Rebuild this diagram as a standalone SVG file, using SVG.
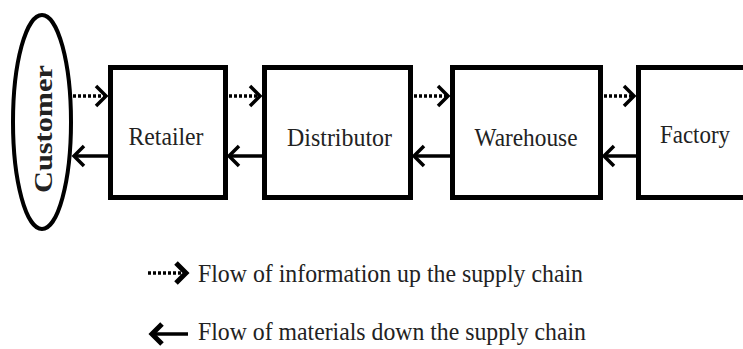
<svg xmlns="http://www.w3.org/2000/svg" width="743" height="349" viewBox="0 0 743 349">
<style>
.box{fill:#fff;stroke:#000;stroke-width:5}
.lbl{font-family:"Liberation Serif",serif;font-size:26px;fill:#222;text-anchor:middle}
.leg{font-family:"Liberation Serif",serif;font-size:26px;fill:#222}
.dot{stroke:#000;stroke-width:3.5;stroke-dasharray:3 2;fill:none}
.sol{stroke:#000;stroke-width:3.5;fill:none}
</style>
<defs>
<marker id="chev" markerUnits="userSpaceOnUse" markerWidth="16" markerHeight="24" refX="12" refY="11" orient="auto" overflow="visible">
<path d="M2,1 L12,11 L2,21" fill="none" stroke="#000" stroke-width="3.5"/>
</marker>
<marker id="chevb" markerUnits="userSpaceOnUse" markerWidth="16" markerHeight="24" refX="12" refY="11" orient="auto" overflow="visible">
<path d="M2,1 L12,11 L2,21" fill="none" stroke="#000" stroke-width="5"/>
</marker>
</defs>
<g id="customer">
<ellipse cx="42" cy="122" rx="29" ry="107" fill="#fff" stroke="#000" stroke-width="4"/>
<text transform="translate(52,129) rotate(-90)" class="lbl" font-weight="bold" textLength="128" lengthAdjust="spacingAndGlyphs">Customer</text>
</g>
<g id="retailer">
<rect class="box" x="110.5" y="67.5" width="115" height="130"/>
<text class="lbl" x="166" y="145" textLength="75" lengthAdjust="spacingAndGlyphs">Retailer</text>
</g>
<g id="distributor">
<rect class="box" x="264.5" y="67.5" width="146" height="130"/>
<text class="lbl" x="339.5" y="146" textLength="105" lengthAdjust="spacingAndGlyphs">Distributor</text>
</g>
<g id="warehouse">
<rect class="box" x="452.5" y="67.5" width="148" height="130"/>
<text class="lbl" x="526" y="146" textLength="103" lengthAdjust="spacingAndGlyphs">Warehouse</text>
</g>
<g id="factory">
<rect class="box" x="638.5" y="67.5" width="115" height="130"/>
<text class="lbl" x="695" y="143" textLength="70" lengthAdjust="spacingAndGlyphs">Factory</text>
</g>
<g id="connectors">
<line class="dot" x1="73" y1="96" x2="106" y2="96" marker-end="url(#chev)"/>
<line class="dot" x1="229" y1="96" x2="260" y2="96" marker-end="url(#chev)"/>
<line class="dot" x1="414" y1="96" x2="448" y2="96" marker-end="url(#chev)"/>
<line class="dot" x1="604" y1="96" x2="634" y2="96" marker-end="url(#chev)"/>
<line class="sol" x1="108" y1="156" x2="74" y2="156" marker-end="url(#chev)"/>
<line class="sol" x1="262" y1="156" x2="229" y2="156" marker-end="url(#chev)"/>
<line class="sol" x1="450" y1="156" x2="414" y2="156" marker-end="url(#chev)"/>
<line class="sol" x1="636" y1="156" x2="604" y2="156" marker-end="url(#chev)"/>
</g>
<g id="legend">
<line class="dot" x1="148" y1="273" x2="186" y2="273" marker-end="url(#chevb)"/>
<text class="leg" x="198" y="282" textLength="385" lengthAdjust="spacingAndGlyphs">Flow of information up the supply chain</text>
<line class="sol" x1="188" y1="334" x2="152" y2="334" stroke-width="5" marker-end="url(#chevb)"/>
<text class="leg" x="198" y="340" textLength="388" lengthAdjust="spacingAndGlyphs">Flow of materials down the supply chain</text>
</g>
</svg>
